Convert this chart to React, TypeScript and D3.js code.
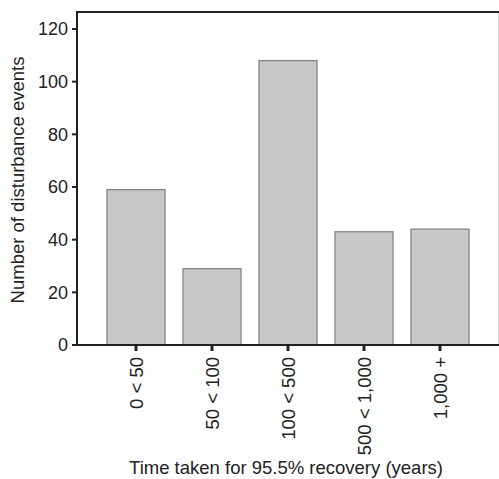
import React from "react";
import * as d3 from "d3";

const categories = ["0 < 50", "50 < 100", "100 < 500", "500 < 1,000", "1,000 +"];
const counts = [59, 29, 108, 43, 44];
const yTicks = [0, 20, 40, 60, 80, 100, 120];

const W = 499;
const H = 479;
const FONT = "'Liberation Sans', Arial, Helvetica, sans-serif";

export default function App() {
  const x = d3.scaleBand<string>().domain(categories).range([98, 478]).paddingInner(0.237).paddingOuter(0.1185);
  const y = d3.scaleLinear().domain([0, 120]).range([345, 29]);
  const left = 77;
  const top = 12;
  const bottom = y(0);
  return (
    <svg width={W} height={H} style={{ position: "absolute", left: 0, top: 0, background: "#fff" }}>
      {categories.map((c, i) => (
        <rect key={c} x={x(c)!} y={y(counts[i])} width={x.bandwidth()} height={bottom - y(counts[i])}
          fill="#c8c8ca" stroke="#858585" strokeWidth={1.3} />
      ))}
      <line x1={W - 0.5} x2={W - 0.5} y1={top} y2={bottom} stroke="#d8d8d8" strokeWidth={1} />
      <line x1={left} x2={W} y1={top} y2={top} stroke="#222" strokeWidth={2} />
      <line x1={left} x2={left} y1={top - 1} y2={bottom + 1} stroke="#222" strokeWidth={2} />
      <line x1={left - 1} x2={W} y1={bottom} y2={bottom} stroke="#222" strokeWidth={2} />
      {yTicks.map((t) => (
        <g key={t}>
          <line x1={left - 5} x2={left} y1={y(t)} y2={y(t)} stroke="#222" strokeWidth={2} />
          <text x={left - 9} y={y(t)} dy="0.36em" textAnchor="end" fontFamily={FONT} fontSize={18} fill="#222">{t}</text>
        </g>
      ))}
      {categories.map((c) => {
        const cx = x(c)! + x.bandwidth() / 2;
        return (
          <g key={c}>
            <line x1={cx} x2={cx} y1={bottom} y2={bottom + 6} stroke="#222" strokeWidth={3} />
            <text transform={`translate(${cx},${357}) rotate(-90)`} dy="0.36em" textAnchor="end"
              fontFamily={FONT} fontSize={18.5} fill="#222">{c}</text>
          </g>
        );
      })}
      <text x={286} y={474} textAnchor="middle" fontFamily={FONT} fontSize={18.5} fill="#222">Time taken for 95.5% recovery (years)</text>
      <text transform={`translate(24,180) rotate(-90)`} textAnchor="middle" fontFamily={FONT} fontSize={18.5} fill="#222">Number of disturbance events</text>
    </svg>
  );
}
